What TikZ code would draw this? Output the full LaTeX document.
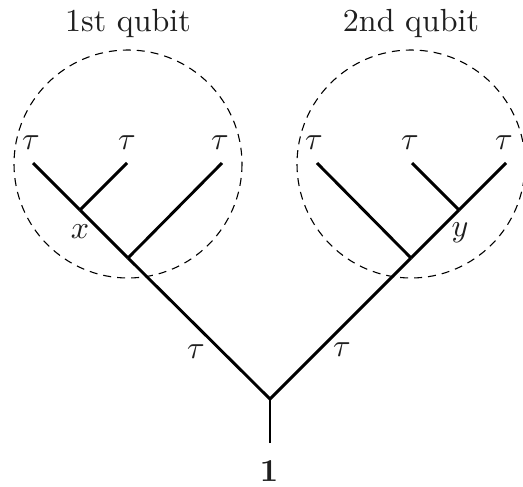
\documentclass[tikz,border=0pt]{standalone}
\usepackage{graphicx}
\newcommand{\bigtxt}[1]{\scalebox{3.2}{#1}}
\begin{document}
\begin{tikzpicture}[x=1pt,y=-1pt,
  edge/.style={line width=2.9pt, line cap=butt, line join=miter},
  ring/.style={draw, dashed, line width=1.1pt, dash pattern=on 8pt off 6pt},
  lbl/.style={inner sep=0pt, text=black!88}]
\useasboundingbox (0,0) rectangle (523,487);
% rings
\draw[ring] (128,164) circle (114);
\draw[ring] (411,164) circle (114);
% coordinates
\coordinate (root) at (270,399);
\coordinate (bot) at (270,443);
\coordinate (L) at (128,258);
\coordinate (R) at (411,258);
\coordinate (X) at (80,210);
\coordinate (Y) at (459,210);
\coordinate (l1) at (33,163);
\coordinate (l2) at (127,163);
\coordinate (l3) at (222,163);
\coordinate (r1) at (317,163);
\coordinate (r2) at (412,163);
\coordinate (r3) at (506,163);
% edges
\draw[edge] (bot) -- (root);
\draw[edge] (root) -- (L);
\draw[edge] (root) -- (R);
\draw[edge] (L) -- (X);
\draw[edge] (X) -- (l1);
\draw[edge] (X) -- (l2);
\draw[edge] (L) -- (l3);
\draw[edge] (R) -- (r1);
\draw[edge] (R) -- (Y);
\draw[edge] (Y) -- (r2);
\draw[edge] (Y) -- (r3);
% labels
\node[lbl] (t1) at (31,143) {\bigtxt{$\tau$}};
\node[lbl] (t2) at (127,143) {\bigtxt{$\tau$}};
\node[lbl] (t3) at (220,143) {\bigtxt{$\tau$}};
\node[lbl] (t4) at (314,143) {\bigtxt{$\tau$}};
\node[lbl] (t5) at (410,143) {\bigtxt{$\tau$}};
\node[lbl] (t6) at (504,143) {\bigtxt{$\tau$}};
\node[lbl] (tl) at (196,352) {\bigtxt{$\tau$}};
\node[lbl] (tr) at (342,350) {\bigtxt{$\tau$}};
\node[lbl] (lx) at (80,232) {\bigtxt{$x$}};
\node[lbl] (ly) at (460,233) {\bigtxt{$y$}};
\node[lbl] (one) at (269,471) {\bigtxt{$\mathbf{1}$}};
\node[lbl] (q1) at (128,24) {\bigtxt{1st qubit}};
\node[lbl] (q2) at (411,24) {\bigtxt{2nd qubit}};
\end{tikzpicture}
\end{document}
